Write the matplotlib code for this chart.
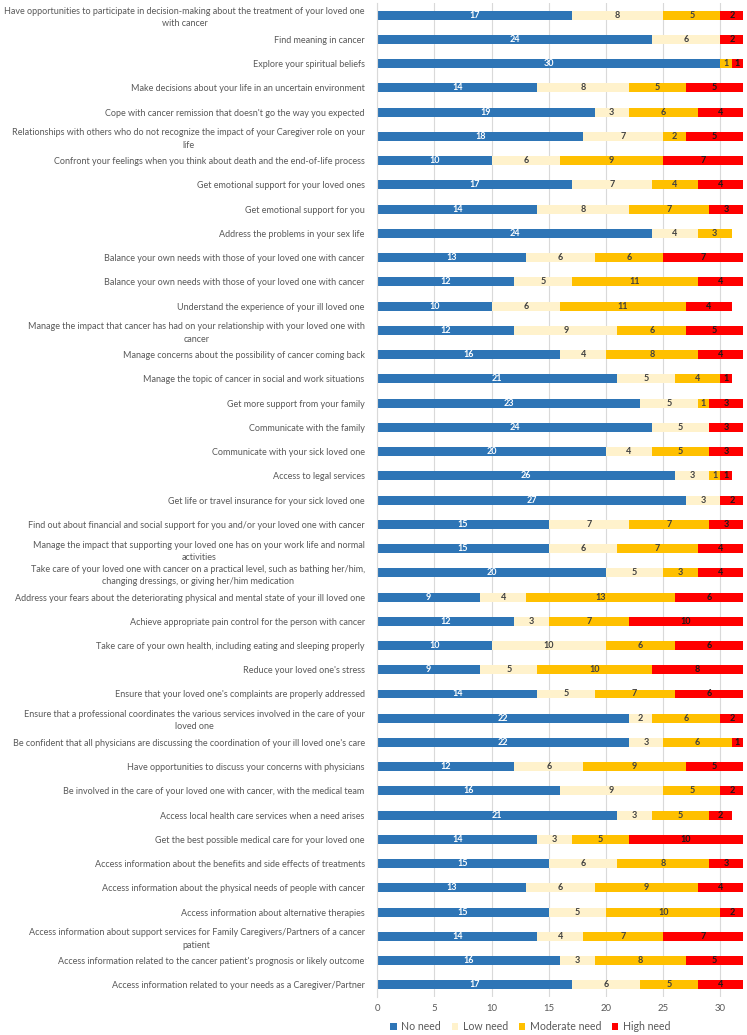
import matplotlib
matplotlib.use("Agg")
import matplotlib.pyplot as plt
import numpy as np

categories = [
    "Have opportunities to participate in decision-making about the treatment of your loved one\nwith cancer",
    "Find meaning in cancer",
    "Explore your spiritual beliefs",
    "Make decisions about your life in an uncertain environment",
    "Cope with cancer remission that doesn't go the way you expected",
    "Relationships with others who do not recognize the impact of your Caregiver role on your\nlife",
    "Confront your feelings when you think about death and the end-of-life process",
    "Get emotional support for your loved ones",
    "Get emotional support for you",
    "Address the problems in your sex life",
    "Balance your own needs with those of your loved one with cancer",
    "Balance your own needs with those of your loved one with cancer",
    "Understand the experience of your ill loved one",
    "Manage the impact that cancer has had on your relationship with your loved one with\ncancer",
    "Manage concerns about the possibility of cancer coming back",
    "Manage the topic of cancer in social and work situations",
    "Get more support from your family",
    "Communicate with the family",
    "Communicate with your sick loved one",
    "Access to legal services",
    "Get life or travel insurance for your sick loved one",
    "Find out about financial and social support for you and/or your loved one with cancer",
    "Manage the impact that supporting your loved one has on your work life and normal\nactivities",
    "Take care of your loved one with cancer on a practical level, such as bathing her/him,\nchanging dressings, or giving her/him medication",
    "Address your fears about the deteriorating physical and mental state of your ill loved one",
    "Achieve appropriate pain control for the person with cancer",
    "Take care of your own health, including eating and sleeping properly",
    "Reduce your loved one's stress",
    "Ensure that your loved one's complaints are properly addressed",
    "Ensure that a professional coordinates the various services involved in the care of your\nloved one",
    "Be confident that all physicians are discussing the coordination of your ill loved one's care",
    "Have opportunities to discuss your concerns with physicians",
    "Be involved in the care of your loved one with cancer, with the medical team",
    "Access local health care services when a need arises",
    "Get the best possible medical care for your loved one",
    "Access information about the benefits and side effects of treatments",
    "Access information about the physical needs of people with cancer",
    "Access information about alternative therapies",
    "Access information about support services for Family Caregivers/Partners of a cancer\npatient",
    "Access information related to the cancer patient's prognosis or likely outcome",
    "Access information related to your needs as a Caregiver/Partner",
]

no_need = [17, 24, 30, 14, 19, 18, 10, 17, 14, 24, 13, 12, 10, 12, 16, 21, 23, 24, 20, 26, 27,
           15, 15, 20, 9, 12, 10, 9, 14, 22, 22, 12, 16, 21, 14, 15, 13, 15, 14, 16, 17]
low_need = [8, 6, 0, 8, 3, 7, 6, 7, 8, 4, 6, 5, 6, 9, 4, 5, 5, 5, 4, 3, 3,
            7, 6, 5, 4, 3, 10, 5, 5, 2, 3, 6, 9, 3, 3, 6, 6, 5, 4, 3, 6]
moderate_need = [5, 0, 1, 5, 6, 2, 9, 4, 7, 3, 6, 11, 11, 6, 8, 4, 1, 0, 5, 1, 0,
                 7, 7, 3, 13, 7, 6, 10, 7, 6, 6, 9, 5, 5, 5, 8, 9, 10, 7, 8, 5]
high_need = [2, 2, 1, 5, 4, 5, 7, 4, 3, 0, 7, 4, 4, 5, 4, 1, 3, 3, 3, 1, 2,
             3, 4, 4, 6, 10, 6, 8, 6, 2, 1, 5, 2, 2, 10, 3, 4, 2, 7, 5, 4]

series_names = ["No need", "Low need", "Moderate need", "High need"]
colors = ["#2e75b6", "#fff2cc", "#ffc000", "#ff0000"]
text_colors = ["white", "#404040", "#404040", "#1a1a1a"]

plt.rcParams["font.family"] = ["Lato", "DejaVu Sans"]

fig = plt.figure(figsize=(7.47, 10.35), dpi=100)
ax = fig.add_axes([0.505, 0.0367, 0.49, 0.9603])

y = np.arange(len(categories))
left = np.zeros(len(categories))
for name, vals, c, tc in zip(series_names, [no_need, low_need, moderate_need, high_need], colors, text_colors):
    vals = np.array(vals, dtype=float)
    bars = ax.barh(y, vals, left=left, height=0.37, color=c, label=name, zorder=3)
    labels = [str(int(v)) if v > 0 else "" for v in vals]
    ax.bar_label(bars, labels=labels, label_type="center", fontsize=6.5,
                 fontweight="bold", color=tc)
    left += vals

ax.set_ylim(len(categories) - 0.5, -0.5)
ax.set_xlim(0, 32)
ax.set_yticks(y)
ax.set_yticklabels(categories, fontsize=6.45, color="#595959",
                   multialignment="center", linespacing=1.45)
ax.set_xticks([0, 5, 10, 15, 20, 25, 30])
ax.tick_params(axis="both", length=0)
ax.tick_params(axis="y", pad=9)
ax.tick_params(axis="x", labelsize=6.9, labelcolor="#595959", pad=5)
ax.grid(axis="x", color="#d9d9d9", linewidth=0.8, zorder=0)
for s in ["top", "right", "bottom"]:
    ax.spines[s].set_visible(False)
ax.spines["left"].set_color("#d9d9d9")
ax.spines["left"].set_zorder(4)

fig.legend(loc="center", bbox_to_anchor=(0.71, 0.008), ncol=4, frameon=False,
           fontsize=7.6, handlelength=0.6, handleheight=0.6, handletextpad=0.45,
           columnspacing=1.0, labelcolor="#595959")

fig.savefig("out.png", dpi=100)
